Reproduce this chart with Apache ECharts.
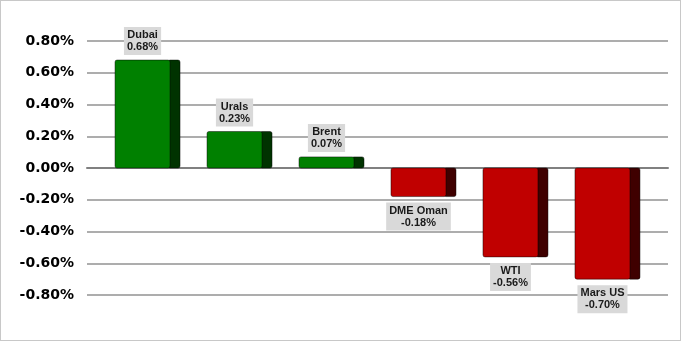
<!DOCTYPE html>
<html>
<head>
<meta charset="utf-8">
<script src="https://cdn.jsdelivr.net/npm/echarts@6/dist/echarts.min.js"></script>
<style>
html,body{margin:0;padding:0;background:#fff;}
#c{width:679px;height:339px;border:1px solid #c8c8c8;}
</style>
</head>
<body>
<div id="c"></div>
<script>
const categories = ['Dubai', 'Urals', 'Brent', 'DME Oman', 'WTI', 'Mars US'];
const values = [0.68, 0.23, 0.07, -0.18, -0.56, -0.70];
const yTicks = { min: -0.8, max: 0.8, interval: 0.2 };

const chart = echarts.init(document.getElementById('c'), null, { renderer: 'canvas' });

const seriesData = values.map((v, i) => [i, v]);

chart.setOption({
  animation: false,
  grid: { left: 86, top: 40, width: 581, height: 254, containLabel: false },
  xAxis: {
    type: 'value',
    min: -0.658, max: 5.658,
    axisLine: { onZero: true, lineStyle: { color: '#808080', width: 2 } },
    axisTick: { show: false },
    axisLabel: { show: false },
    splitLine: { show: false }
  },
  yAxis: {
    type: 'value',
    min: yTicks.min, max: yTicks.max, interval: yTicks.interval,
    axisLine: { show: false },
    axisTick: { show: false },
    axisLabel: {
      margin: 13,
      color: '#000',
      fontFamily: 'DejaVu Sans',
      fontWeight: 'bold',
      fontSize: 14,
      formatter: v => v.toFixed(2) + '%'
    },
    splitLine: { lineStyle: { color: '#adadad', width: 2 } }
  },
  series: [{
    type: 'custom',
    data: seriesData,
    renderItem: function (params, api) {
      const idx = api.value(0);
      const v = api.value(1);
      const top = api.coord([idx, v]);
      const base = api.coord([idx, 0]);
      const cx = top[0];
      const pos = v >= 0;
      const y0 = Math.min(top[1], base[1]);
      const h = Math.abs(top[1] - base[1]);
      const front = pos ? '#008000' : '#c00000';
      const side = pos ? '#003300' : '#3f0000';
      const fw = 55, sw = 10;
      const fx = cx - 32.5;
      const label = categories[idx] + '\n' + v.toFixed(2) + '%';
      return {
        type: 'group',
        children: [
          { type: 'rect', shape: { x: fx + fw - 2, y: y0, width: sw + 2, height: h, r: 2 },
            style: { fill: side, stroke: 'rgba(0,0,0,0.45)', lineWidth: 1 } },
          { type: 'rect', shape: { x: fx, y: y0, width: fw, height: h, r: 2 },
            style: { fill: front, stroke: 'rgba(0,0,0,0.45)', lineWidth: 1 } },
          { type: 'text',
            x: fx + fw / 2,
            y: pos ? y0 - 5 : y0 + h + 6,
            style: {
              text: label,
              align: 'center',
              verticalAlign: pos ? 'bottom' : 'top',
              fontFamily: 'Liberation Sans, Arial',
              fontWeight: 'bold',
              fontSize: 11,
              lineHeight: 12,
              fill: '#1a1a1a',
              backgroundColor: '#d9d9d9',
              padding: [2, 3, 2, 3]
            } }
        ]
      };
    }
  }]
});
</script>
</body>
</html>
